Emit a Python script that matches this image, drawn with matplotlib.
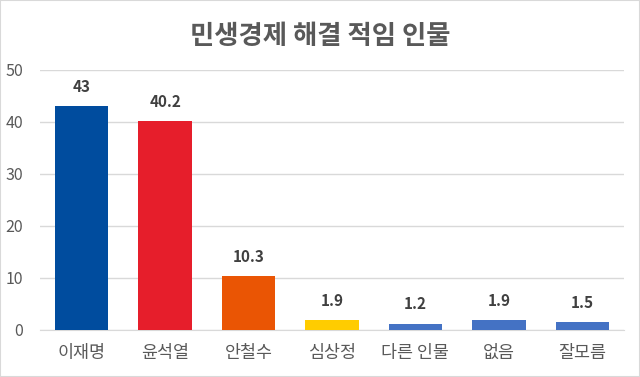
import matplotlib.pyplot as plt
from matplotlib.patches import Rectangle

plt.rcParams['font.family'] = ['Noto Sans CJK KR', 'DejaVu Sans']

names = ['이재명', '윤석열', '안철수', '심상정', '다른 인물', '없음', '잘모름']
values = [43, 40.2, 10.3, 1.9, 1.2, 1.9, 1.5]
colors = ['#004C9E', '#E61E2B', '#EA5504', '#FFCC00', '#4472C4', '#4472C4', '#4472C4']
labels = ['43', '40.2', '10.3', '1.9', '1.2', '1.9', '1.5']

fig = plt.figure(figsize=(6.4, 3.77), dpi=100)
fig.patches.append(Rectangle((0, 0), 1, 1, transform=fig.transFigure,
                             fill=False, edgecolor='#D9D9D9', linewidth=1.5))
ax = fig.add_axes([40 / 640, 1 - 330 / 377, 584 / 640, 260 / 377])

x = range(len(names))
ax.bar(x, values, width=0.64, color=colors, zorder=3)
for i, v in enumerate(values):
    ax.text(i, v + 2.2, labels[i], ha='center', va='bottom', fontsize=11,
            fontweight='bold', color='#404040')

ax.set_xlim(-0.5, len(names) - 0.5)
ax.set_ylim(0, 50)
ax.set_yticks([0, 10, 20, 30, 40, 50])
ax.yaxis.grid(True, color='#D9D9D9', linewidth=1, zorder=0)
ax.set_xticks(list(x))
ax.set_xticklabels(names, fontsize=12.5, color='#595959')
ax.tick_params(axis='y', labelsize=11.5, labelcolor='#595959', length=0, pad=12)
ax.tick_params(axis='x', length=0, pad=10)
for s in ['top', 'right', 'left']:
    ax.spines[s].set_visible(False)
ax.spines['bottom'].set_color('#D9D9D9')

fig.text(0.5, 1 - 36 / 377, '민생경제 해결 적임 인물', ha='center', va='center',
         fontsize=19, fontweight='bold', color='#595959')

fig.savefig('out.png', dpi=100)
